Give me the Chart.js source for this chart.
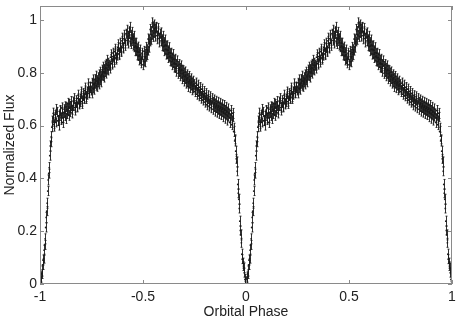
<!DOCTYPE html>
<html>
<head>
<meta charset="utf-8">
<script src="https://cdn.jsdelivr.net/npm/chart.js@4"></script>
<style>
html, body { margin: 0; padding: 0; background: #fff; }
#wrap { width: 461px; height: 324px; }
</style>
</head>
<body>
<div id="wrap"><canvas id="lc"></canvas></div>
<script>
// one folded orbit (phase 0..1) from two runs, plotted twice as -1..0 and 0..1
const phaseA = [
    0.0025, 0.0075, 0.0125, 0.0175, 0.0225, 0.0275, 0.0325, 0.0375, 0.0425, 0.0475,
    0.0525, 0.0575, 0.0625, 0.0675, 0.0725, 0.0775, 0.0825, 0.0875, 0.0925, 0.0975,
    0.1025, 0.1075, 0.1125, 0.1175, 0.1225, 0.1275, 0.1325, 0.1375, 0.1425, 0.1475,
    0.1525, 0.1575, 0.1625, 0.1675, 0.1725, 0.1775, 0.1825, 0.1875, 0.1925, 0.1975,
    0.2025, 0.2075, 0.2125, 0.2175, 0.2225, 0.2275, 0.2325, 0.2375, 0.2425, 0.2475,
    0.2525, 0.2575, 0.2625, 0.2675, 0.2725, 0.2775, 0.2825, 0.2875, 0.2925, 0.2975,
    0.3025, 0.3075, 0.3125, 0.3175, 0.3225, 0.3275, 0.3325, 0.3375, 0.3425, 0.3475,
    0.3525, 0.3575, 0.3625, 0.3675, 0.3725, 0.3775, 0.3825, 0.3875, 0.3925, 0.3975,
    0.4025, 0.4075, 0.4125, 0.4175, 0.4225, 0.4275, 0.4325, 0.4375, 0.4425, 0.4475,
    0.4525, 0.4575, 0.4625, 0.4675, 0.4725, 0.4775, 0.4825, 0.4875, 0.4925, 0.4975,
    0.5025, 0.5075, 0.5125, 0.5175, 0.5225, 0.5275, 0.5325, 0.5375, 0.5425, 0.5475,
    0.5525, 0.5575, 0.5625, 0.5675, 0.5725, 0.5775, 0.5825, 0.5875, 0.5925, 0.5975,
    0.6025, 0.6075, 0.6125, 0.6175, 0.6225, 0.6275, 0.6325, 0.6375, 0.6425, 0.6475,
    0.6525, 0.6575, 0.6625, 0.6675, 0.6725, 0.6775, 0.6825, 0.6875, 0.6925, 0.6975,
    0.7025, 0.7075, 0.7125, 0.7175, 0.7225, 0.7275, 0.7325, 0.7375, 0.7425, 0.7475,
    0.7525, 0.7575, 0.7625, 0.7675, 0.7725, 0.7775, 0.7825, 0.7875, 0.7925, 0.7975,
    0.8025, 0.8075, 0.8125, 0.8175, 0.8225, 0.8275, 0.8325, 0.8375, 0.8425, 0.8475,
    0.8525, 0.8575, 0.8625, 0.8675, 0.8725, 0.8775, 0.8825, 0.8875, 0.8925, 0.8975,
    0.9025, 0.9075, 0.9125, 0.9175, 0.9225, 0.9275, 0.9325, 0.9375, 0.9425, 0.9475,
    0.9525, 0.9575, 0.9625, 0.9675, 0.9725, 0.9775, 0.9825, 0.9875, 0.9925, 0.9975
];
const fluxA = [
    0.012, 0.038, 0.072, 0.096, 0.148, 0.214, 0.276, 0.352, 0.418, 0.486,
    0.537, 0.594, 0.628, 0.605, 0.641, 0.612, 0.652, 0.618, 0.637, 0.659,
    0.621, 0.646, 0.628, 0.662, 0.636, 0.671, 0.644, 0.657, 0.682, 0.651,
    0.674, 0.660, 0.691, 0.668, 0.686, 0.672, 0.703, 0.684, 0.698, 0.719,
    0.691, 0.712, 0.701, 0.733, 0.708, 0.729, 0.745, 0.722, 0.748, 0.733,
    0.762, 0.741, 0.758, 0.776, 0.751, 0.772, 0.763, 0.794, 0.771, 0.789,
    0.812, 0.788, 0.815, 0.803, 0.834, 0.812, 0.838, 0.827, 0.859, 0.836,
    0.861, 0.849, 0.881, 0.856, 0.874, 0.897, 0.872, 0.893, 0.884, 0.921,
    0.896, 0.929, 0.911, 0.948, 0.922, 0.939, 0.957, 0.918, 0.944, 0.927,
    0.931, 0.897, 0.914, 0.882, 0.893, 0.864, 0.878, 0.852, 0.846, 0.867,
    0.843, 0.872, 0.861, 0.889, 0.884, 0.926, 0.919, 0.958, 0.944, 0.976,
    0.951, 0.968, 0.972, 0.941, 0.957, 0.930, 0.948, 0.921, 0.927, 0.899,
    0.916, 0.889, 0.903, 0.871, 0.885, 0.861, 0.874, 0.842, 0.858, 0.836,
    0.849, 0.818, 0.833, 0.826, 0.803, 0.819, 0.797, 0.812, 0.784, 0.801,
    0.776, 0.787, 0.764, 0.781, 0.759, 0.771, 0.752, 0.764, 0.741, 0.757,
    0.736, 0.749, 0.727, 0.741, 0.720, 0.731, 0.712, 0.722, 0.706, 0.716,
    0.698, 0.707, 0.691, 0.701, 0.684, 0.695, 0.679, 0.690, 0.671, 0.684,
    0.667, 0.677, 0.660, 0.673, 0.656, 0.669, 0.652, 0.664, 0.647, 0.659,
    0.641, 0.653, 0.634, 0.646, 0.628, 0.641, 0.619, 0.633, 0.592, 0.548,
    0.474, 0.427, 0.344, 0.286, 0.203, 0.156, 0.094, 0.068, 0.043, 0.009
];
const phaseB = [
    0.000, 0.005, 0.010, 0.015, 0.020, 0.025, 0.030, 0.035, 0.040, 0.045,
    0.050, 0.055, 0.060, 0.065, 0.070, 0.075, 0.080, 0.085, 0.090, 0.095,
    0.100, 0.105, 0.110, 0.115, 0.120, 0.125, 0.130, 0.135, 0.140, 0.145,
    0.150, 0.155, 0.160, 0.165, 0.170, 0.175, 0.180, 0.185, 0.190, 0.195,
    0.200, 0.205, 0.210, 0.215, 0.220, 0.225, 0.230, 0.235, 0.240, 0.245,
    0.250, 0.255, 0.260, 0.265, 0.270, 0.275, 0.280, 0.285, 0.290, 0.295,
    0.300, 0.305, 0.310, 0.315, 0.320, 0.325, 0.330, 0.335, 0.340, 0.345,
    0.350, 0.355, 0.360, 0.365, 0.370, 0.375, 0.380, 0.385, 0.390, 0.395,
    0.400, 0.405, 0.410, 0.415, 0.420, 0.425, 0.430, 0.435, 0.440, 0.445,
    0.450, 0.455, 0.460, 0.465, 0.470, 0.475, 0.480, 0.485, 0.490, 0.495,
    0.500, 0.505, 0.510, 0.515, 0.520, 0.525, 0.530, 0.535, 0.540, 0.545,
    0.550, 0.555, 0.560, 0.565, 0.570, 0.575, 0.580, 0.585, 0.590, 0.595,
    0.600, 0.605, 0.610, 0.615, 0.620, 0.625, 0.630, 0.635, 0.640, 0.645,
    0.650, 0.655, 0.660, 0.665, 0.670, 0.675, 0.680, 0.685, 0.690, 0.695,
    0.700, 0.705, 0.710, 0.715, 0.720, 0.725, 0.730, 0.735, 0.740, 0.745,
    0.750, 0.755, 0.760, 0.765, 0.770, 0.775, 0.780, 0.785, 0.790, 0.795,
    0.800, 0.805, 0.810, 0.815, 0.820, 0.825, 0.830, 0.835, 0.840, 0.845,
    0.850, 0.855, 0.860, 0.865, 0.870, 0.875, 0.880, 0.885, 0.890, 0.895,
    0.900, 0.905, 0.910, 0.915, 0.920, 0.925, 0.930, 0.935, 0.940, 0.945,
    0.950, 0.955, 0.960, 0.965, 0.970, 0.975, 0.980, 0.985, 0.990, 0.995
];
const fluxB = [
    0.004, 0.026, 0.049, 0.091, 0.128, 0.171, 0.252, 0.306, 0.394, 0.441,
    0.523, 0.558, 0.617, 0.647, 0.598, 0.631, 0.661, 0.619, 0.602, 0.654,
    0.629, 0.667, 0.612, 0.650, 0.671, 0.627, 0.661, 0.684, 0.639, 0.670,
    0.691, 0.648, 0.676, 0.702, 0.659, 0.694, 0.671, 0.715, 0.682, 0.691,
    0.727, 0.684, 0.721, 0.705, 0.742, 0.703, 0.719, 0.758, 0.726, 0.744,
    0.724, 0.773, 0.738, 0.761, 0.787, 0.749, 0.781, 0.758, 0.802, 0.766,
    0.793, 0.821, 0.784, 0.826, 0.799, 0.847, 0.811, 0.829, 0.818, 0.868,
    0.833, 0.874, 0.841, 0.889, 0.852, 0.867, 0.906, 0.869, 0.912, 0.881,
    0.931, 0.894, 0.942, 0.904, 0.961, 0.913, 0.949, 0.972, 0.911, 0.953,
    0.905, 0.938, 0.884, 0.912, 0.868, 0.897, 0.849, 0.886, 0.838, 0.874,
    0.831, 0.881, 0.842, 0.896, 0.869, 0.928, 0.897, 0.964, 0.927, 0.989,
    0.938, 0.981, 0.939, 0.972, 0.929, 0.968, 0.917, 0.951, 0.903, 0.938,
    0.884, 0.924, 0.871, 0.902, 0.858, 0.895, 0.846, 0.874, 0.831, 0.869,
    0.822, 0.851, 0.806, 0.845, 0.798, 0.831, 0.789, 0.826, 0.778, 0.808,
    0.769, 0.803, 0.761, 0.792, 0.748, 0.786, 0.744, 0.777, 0.736, 0.768,
    0.729, 0.761, 0.719, 0.753, 0.713, 0.744, 0.704, 0.738, 0.697, 0.729,
    0.689, 0.721, 0.679, 0.713, 0.674, 0.709, 0.668, 0.702, 0.662, 0.697,
    0.655, 0.692, 0.651, 0.688, 0.646, 0.684, 0.642, 0.679, 0.634, 0.676,
    0.628, 0.669, 0.621, 0.663, 0.612, 0.657, 0.604, 0.646, 0.578, 0.542,
    0.503, 0.462, 0.377, 0.321, 0.238, 0.186, 0.113, 0.079, 0.061, 0.017
];
const errA = 0.017;
const errB = 0.019;
const cycles = [-1, 0];
const xTicks = [-1, -0.5, 0, 0.5, 1];
const yTicks = [0, 0.2, 0.4, 0.6, 0.8, 1];

const runs = [
    { phase: phaseA, flux: fluxA, err: errA },
    { phase: phaseB, flux: fluxB, err: errB }
];
const points = [];
cycles.forEach(function (shift) {
    runs.forEach(function (run) {
        run.phase.forEach(function (p, i) {
            points.push({ x: p + shift, y: run.flux[i], e: run.err });
        });
    });
});

const axisColor = '#8a8a8a';
const inkColor = '#1a1a1a';
const font = { family: '"Liberation Sans", Arial, Helvetica, sans-serif', size: 14 };

const errorBars = {
    id: 'errorBars',
    afterDatasetsDraw(chart) {
        const { ctx, chartArea: a, scales: { x, y } } = chart;
        ctx.save();
        ctx.beginPath();
        ctx.rect(a.left, a.top, a.right - a.left, a.bottom - a.top);
        ctx.clip();
        ctx.strokeStyle = inkColor;
        ctx.lineWidth = 0.9;
        ctx.beginPath();
        points.forEach(function (pt) {
            const px = Math.round(x.getPixelForValue(pt.x)) + 0.5;
            const lo = y.getPixelForValue(pt.y - pt.e);
            const hi = y.getPixelForValue(pt.y + pt.e);
            ctx.moveTo(px, lo); ctx.lineTo(px, hi);
            ctx.moveTo(px - 1, lo); ctx.lineTo(px + 1, lo);
            ctx.moveTo(px - 1, hi); ctx.lineTo(px + 1, hi);
        });
        ctx.stroke();
        ctx.restore();
    }
};

// box round the plot with inward ticks on all four sides
const frame = {
    id: 'frame',
    afterDraw(chart) {
        const { ctx, chartArea: a, scales: { x, y } } = chart;
        const len = 4;
        ctx.save();
        ctx.strokeStyle = axisColor;
        ctx.lineWidth = 1;
        ctx.strokeRect(a.left + 0.5, a.top + 0.5, a.right - a.left - 1, a.bottom - a.top - 1);
        ctx.beginPath();
        xTicks.forEach(function (v) {
            const px = Math.round(x.getPixelForValue(v)) + 0.5;
            ctx.moveTo(px, a.bottom); ctx.lineTo(px, a.bottom - len);
            ctx.moveTo(px, a.top); ctx.lineTo(px, a.top + len);
        });
        yTicks.forEach(function (v) {
            const py = Math.round(y.getPixelForValue(v)) + 0.5;
            ctx.moveTo(a.left, py); ctx.lineTo(a.left + len, py);
            ctx.moveTo(a.right, py); ctx.lineTo(a.right - len, py);
        });
        ctx.stroke();
        ctx.restore();
    }
};

new Chart(document.getElementById('lc'), {
    type: 'scatter',
    data: {
        datasets: [{
            data: points,
            pointRadius: 0.9,
            pointHoverRadius: 0.9,
            pointBorderWidth: 0,
            pointBackgroundColor: inkColor
        }]
    },
    options: {
        responsive: true,
        maintainAspectRatio: false,
        animation: false,
        events: [],
        layout: { padding: { top: 6, right: 9, left: 0, bottom: 0 } },
        plugins: { legend: { display: false }, tooltip: { enabled: false } },
        scales: {
            x: {
                type: 'linear',
                min: -1,
                max: 1,
                afterBuildTicks: function (s) { s.ticks = xTicks.map(function (v) { return { value: v }; }); },
                afterFit: function (s) { s.height = 40; s.paddingLeft = 0; s.paddingRight = 0; },
                grid: { display: false, drawTicks: false },
                border: { display: false },
                ticks: { padding: 5, color: '#222', font: font, maxRotation: 0, callback: function (v) { return String(v); } },
                title: { display: true, text: 'Orbital Phase', color: '#222', font: font, padding: { top: 0, bottom: 3 } }
            },
            y: {
                type: 'linear',
                min: 0,
                max: 1.053,
                afterBuildTicks: function (s) { s.ticks = yTicks.map(function (v) { return { value: v }; }); },
                afterFit: function (s) { s.width = 40; s.paddingTop = 0; s.paddingBottom = 0; },
                grid: { display: false, drawTicks: false },
                border: { display: false },
                ticks: { padding: 3, color: '#222', font: font, callback: function (v) { return String(v); } },
                title: { display: true, text: 'Normalized Flux', color: '#222', font: font, padding: { top: 2, bottom: 0 } }
            }
        }
    },
    plugins: [errorBars, frame]
});
</script>
</body>
</html>
